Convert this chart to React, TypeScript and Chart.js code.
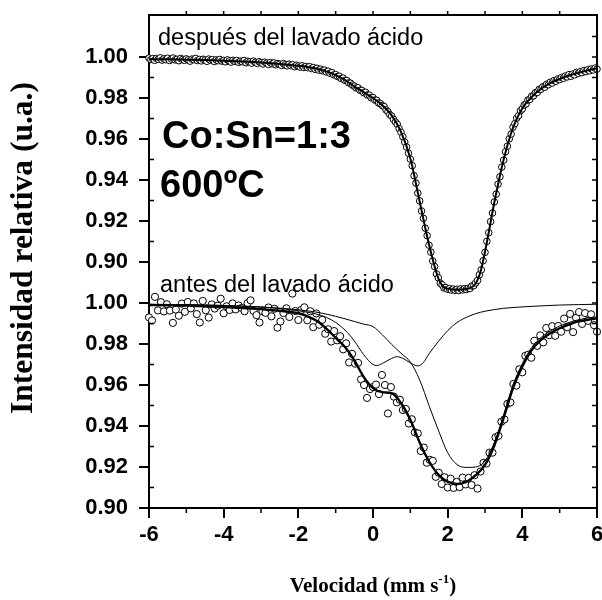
import { useEffect, useRef } from "react";
import { Chart, registerables } from "chart.js";

Chart.register(...registerables);

// ---------- axis ticks ----------
const yTicks = [0.9, 0.92, 0.94, 0.96, 0.98, 1.0];
const yMinor = [0.91, 0.93, 0.95, 0.97, 0.99];
const xTicks = [-6, -4, -2, 0, 2, 4, 6];
const xMinor = [-5, -3, -1, 1, 3, 5];
const xTopTicks = [-5, -4, -3, -2, -1, 0, 1, 2, 3, 4, 5];

// ---------- top panel: después del lavado ácido ----------
const velTop = [
  -6, -5.95, -5.9, -5.85, -5.8, -5.75, -5.7, -5.65, -5.6, -5.55,
  -5.5, -5.45, -5.4, -5.35, -5.3, -5.25, -5.2, -5.15, -5.1, -5.05,
  -5, -4.95, -4.9, -4.85, -4.8, -4.75, -4.7, -4.65, -4.6, -4.55,
  -4.5, -4.45, -4.4, -4.35, -4.3, -4.25, -4.2, -4.15, -4.1, -4.05,
  -4, -3.95, -3.9, -3.85, -3.8, -3.75, -3.7, -3.65, -3.6, -3.55,
  -3.5, -3.45, -3.4, -3.35, -3.3, -3.25, -3.2, -3.15, -3.1, -3.05,
  -3, -2.95, -2.9, -2.85, -2.8, -2.75, -2.7, -2.65, -2.6, -2.55,
  -2.5, -2.45, -2.4, -2.35, -2.3, -2.25, -2.2, -2.15, -2.1, -2.05,
  -2, -1.95, -1.9, -1.85, -1.8, -1.75, -1.7, -1.65, -1.6, -1.55,
  -1.5, -1.45, -1.4, -1.35, -1.3, -1.25, -1.2, -1.15, -1.1, -1.05,
  -1, -0.95, -0.9, -0.85, -0.8, -0.75, -0.7, -0.65, -0.6, -0.55,
  -0.5, -0.45, -0.4, -0.35, -0.3, -0.25, -0.2, -0.15, -0.1, -0.05,
  0, 0.05, 0.1, 0.15, 0.2, 0.25, 0.3, 0.35, 0.4, 0.45,
  0.5, 0.55, 0.6, 0.65, 0.7, 0.75, 0.8, 0.85, 0.9, 0.95,
  1, 1.05, 1.1, 1.15, 1.2, 1.25, 1.3, 1.35, 1.4, 1.45,
  1.5, 1.55, 1.6, 1.65, 1.7, 1.75, 1.8, 1.85, 1.9, 1.95,
  2, 2.05, 2.1, 2.15, 2.2, 2.25, 2.3, 2.35, 2.4, 2.45,
  2.5, 2.55, 2.6, 2.65, 2.7, 2.75, 2.8, 2.85, 2.9, 2.95,
  3, 3.05, 3.1, 3.15, 3.2, 3.25, 3.3, 3.35, 3.4, 3.45,
  3.5, 3.55, 3.6, 3.65, 3.7, 3.75, 3.8, 3.85, 3.9, 3.95,
  4, 4.05, 4.1, 4.15, 4.2, 4.25, 4.3, 4.35, 4.4, 4.45,
  4.5, 4.55, 4.6, 4.65, 4.7, 4.75, 4.8, 4.85, 4.9, 4.95,
  5, 5.05, 5.1, 5.15, 5.2, 5.25, 5.3, 5.35, 5.4, 5.45,
  5.5, 5.55, 5.6, 5.65, 5.7, 5.75, 5.8, 5.85, 5.9, 5.95,
  6,
];
const intTop = [
  0.9995, 0.9988, 0.9992, 0.9984, 0.9993, 0.9989, 0.9996, 0.9985, 0.9991, 0.9987,
  0.9994, 0.9983, 0.999, 0.9995, 0.9986, 0.9989, 0.9982, 0.9993, 0.9988, 0.9984,
  0.9991, 0.9986, 0.998, 0.999, 0.9987, 0.9993, 0.9983, 0.9988, 0.9981, 0.9989,
  0.9985, 0.9979, 0.999, 0.9984, 0.9987, 0.9978, 0.9986, 0.9982, 0.9988, 0.998,
  0.9983, 0.9977, 0.9986, 0.9981, 0.9975, 0.9984, 0.9979, 0.9983, 0.9974, 0.998,
  0.9977, 0.9983, 0.9972, 0.9979, 0.9976, 0.997, 0.998, 0.9974, 0.9969, 0.9977,
  0.9972, 0.9966, 0.9975, 0.997, 0.9964, 0.9973, 0.9967, 0.9971, 0.9962, 0.9968,
  0.9965, 0.9959, 0.9968, 0.9962, 0.9957, 0.9965, 0.9958, 0.9962, 0.9953, 0.996,
  0.9956, 0.9951, 0.9957, 0.9949, 0.9954, 0.9948, 0.9953, 0.9944, 0.9949, 0.994,
  0.9945, 0.9936, 0.9941, 0.9933, 0.9936, 0.9927, 0.9931, 0.9921, 0.9924, 0.9913,
  0.9914, 0.9905, 0.9906, 0.9895, 0.9897, 0.9886, 0.9885, 0.9874, 0.9872, 0.9863,
  0.9858, 0.9849, 0.985, 0.9838, 0.9837, 0.9826, 0.9828, 0.9815, 0.9814, 0.9801,
  0.9802, 0.979, 0.9789, 0.9776, 0.9772, 0.9763, 0.9758, 0.9742, 0.9733, 0.9719,
  0.9712, 0.9696, 0.9683, 0.9672, 0.9651, 0.9633, 0.9611, 0.9585, 0.9561, 0.9531,
  0.9502, 0.947, 0.9421, 0.9385, 0.9336, 0.9298, 0.9249, 0.9213, 0.9165, 0.9129,
  0.9082, 0.9048, 0.9005, 0.8978, 0.8942, 0.8923, 0.8897, 0.8889, 0.8874, 0.8875,
  0.8867, 0.887, 0.8863, 0.8868, 0.8862, 0.8867, 0.8861, 0.8869, 0.8864, 0.887,
  0.8866, 0.8872, 0.8871, 0.8883, 0.8885, 0.8898, 0.891, 0.8938, 0.8962, 0.9006,
  0.9047, 0.9101, 0.9143, 0.9197, 0.9239, 0.9293, 0.9331, 0.938, 0.9416, 0.9463,
  0.9497, 0.9538, 0.9565, 0.9601, 0.9624, 0.9658, 0.9675, 0.9702, 0.9714, 0.9738,
  0.9747, 0.9766, 0.9771, 0.979, 0.9793, 0.9809, 0.9811, 0.9826, 0.9827, 0.9842,
  0.9843, 0.9855, 0.9853, 0.9867, 0.9865, 0.9877, 0.9873, 0.9885, 0.9882, 0.9893,
  0.989, 0.99, 0.9896, 0.9907, 0.9903, 0.9914, 0.9906, 0.9917, 0.9913, 0.9925,
  0.992, 0.9928, 0.9924, 0.9934, 0.9929, 0.9938, 0.9933, 0.9942, 0.9937, 0.9946,
  0.9941,
];
const velFitTop = [
  -6, -5.5, -5, -4.5, -4, -3.5, -3, -2.5, -2, -1.75, -1.5, -1.25, -1, -0.75, -0.5, -0.25,
  0, 0.25, 0.5, 0.75, 1, 1.25, 1.5, 1.75, 1.875, 2, 2.25, 2.5, 2.75, 2.875, 3, 3.25, 3.5,
  3.75, 4, 4.25, 4.5, 4.75, 5, 5.25, 5.5, 5.75, 6,
];
const fitTop = [
  0.999, 0.9989, 0.9987, 0.9985, 0.9982, 0.9978, 0.9973, 0.9966, 0.9957, 0.9951, 0.9943, 0.993,
  0.9912, 0.9888, 0.9856, 0.9829, 0.98, 0.9765, 0.9715, 0.9635, 0.9505, 0.9295, 0.9085, 0.892,
  0.8881, 0.887, 0.8865, 0.8868, 0.8895, 0.895, 0.905, 0.929, 0.95, 0.9655, 0.975, 0.9805,
  0.9845, 0.9873, 0.9893, 0.991, 0.9923, 0.9935, 0.9945,
];

// ---------- bottom panel: antes del lavado ácido ----------
const velBot = [
  -6, -5.92, -5.84, -5.76, -5.68, -5.6, -5.52, -5.44, -5.36, -5.28,
  -5.2, -5.12, -5.04, -4.96, -4.88, -4.8, -4.72, -4.64, -4.56, -4.48,
  -4.4, -4.32, -4.24, -4.16, -4.08, -4, -3.92, -3.84, -3.76, -3.68,
  -3.6, -3.52, -3.44, -3.36, -3.28, -3.2, -3.12, -3.04, -2.96, -2.88,
  -2.8, -2.72, -2.64, -2.56, -2.48, -2.4, -2.32, -2.24, -2.16, -2.08,
  -2, -1.92, -1.84, -1.76, -1.68, -1.6, -1.52, -1.44, -1.36, -1.28,
  -1.2, -1.12, -1.04, -0.96, -0.88, -0.8, -0.72, -0.64, -0.56, -0.48,
  -0.4, -0.32, -0.24, -0.16, -0.08, 0, 0.08, 0.16, 0.24, 0.32,
  0.4, 0.48, 0.56, 0.64, 0.72, 0.8, 0.88, 0.96, 1.04, 1.12,
  1.2, 1.28, 1.36, 1.44, 1.52, 1.6, 1.68, 1.76, 1.84, 1.92,
  2, 2.08, 2.16, 2.24, 2.32, 2.4, 2.48, 2.56, 2.64, 2.72,
  2.8, 2.88, 2.96, 3.04, 3.12, 3.2, 3.28, 3.36, 3.44, 3.52,
  3.6, 3.68, 3.76, 3.84, 3.92, 4, 4.08, 4.16, 4.24, 4.32,
  4.4, 4.48, 4.56, 4.64, 4.72, 4.8, 4.88, 4.96, 5.04, 5.12,
  5.2, 5.28, 5.36, 5.44, 5.52, 5.6, 5.68, 5.76, 5.84, 5.92,
  6,
];
const intBot = [
  0.993, 0.9915, 1.003, 0.9964, 1.0004, 0.9959, 0.9994, 0.9963, 0.9903, 0.9968,
  0.9938, 0.9997, 0.9957, 1.0005, 0.9974, 0.9998, 0.9946, 0.9905, 1.001, 0.9965,
  0.9929, 0.9993, 0.9973, 0.9987, 1.0021, 0.995, 0.9984, 0.9966, 0.9998, 0.9969,
  0.9988, 0.9976, 0.996, 0.9999, 1.0013, 0.9962, 0.9941, 0.9905, 0.996, 0.9952,
  0.9978, 0.9935, 0.9972, 0.988, 0.991, 0.9951, 0.9974, 0.9932, 1.0046, 0.9961,
  0.9917, 0.9966, 0.9979, 0.9916, 0.996, 0.9882, 0.9949, 0.9894, 0.9918, 0.985,
  0.9872, 0.9812, 0.9863, 0.9818, 0.9838, 0.9774, 0.9803, 0.971, 0.9752, 0.9704,
  0.9708, 0.9627, 0.96, 0.9537, 0.958, 0.959, 0.9602, 0.9556, 0.9649, 0.96,
  0.9461, 0.959, 0.9543, 0.9515, 0.9528, 0.9478, 0.9483, 0.9412, 0.9433, 0.9369,
  0.9364, 0.9278, 0.9295, 0.9221, 0.9235, 0.923, 0.9152, 0.9172, 0.9117, 0.915,
  0.91, 0.9143, 0.9098, 0.9127, 0.9102, 0.9148, 0.9115, 0.9147, 0.9112, 0.916,
  0.9095, 0.9178, 0.922, 0.9217, 0.927, 0.927, 0.9345, 0.9352, 0.9421, 0.9432,
  0.9508, 0.9515, 0.9605, 0.9597, 0.9677, 0.9662, 0.9742, 0.9748, 0.9733, 0.9816,
  0.9791, 0.9842, 0.9808, 0.9878, 0.9843, 0.9887, 0.984, 0.9888, 0.986, 0.9924,
  0.9882, 0.9947, 0.9858, 0.9928, 0.9956, 0.9898, 0.9951, 0.9913, 0.9945, 0.9892,
  0.986,
];
const velFitBot = [
  -6, -5.5, -5, -4.5, -4, -3.5, -3, -2.5, -2, -1.75, -1.5, -1.25, -1, -0.75, -0.5, -0.25,
  0, 0.25, 0.5, 0.75, 1, 1.25, 1.5, 1.75, 2, 2.25, 2.5, 2.75, 3, 3.25, 3.5, 3.75, 4, 4.25,
  4.5, 4.75, 5, 5.25, 5.5, 5.75, 6,
];
const fitBot = [
  0.999, 0.9989, 0.9987, 0.9984, 0.998, 0.9976, 0.997, 0.9962, 0.995, 0.9935, 0.9912, 0.9875,
  0.983, 0.9785, 0.972, 0.964, 0.9585, 0.9565, 0.956, 0.9512, 0.943, 0.932, 0.9228, 0.9163,
  0.9128, 0.9117, 0.9127, 0.916, 0.921, 0.9305, 0.944, 0.9585, 0.969, 0.977, 0.982, 0.9852,
  0.9877, 0.9895, 0.991, 0.9918, 0.9925,
];
const velSinglet = [
  -6, -5, -4, -3.5, -3, -2.5, -2, -1.5, -1.25, -1, -0.75, -0.5, -0.25, 0, 0.25, 0.5, 0.75,
  1, 1.25, 1.5, 1.75, 2, 2.25, 2.5, 2.75, 3, 3.25, 3.5, 3.75, 4, 4.25, 4.5, 4.75, 5, 5.25,
  5.5, 5.75, 6,
];
const fitSinglet = [
  0.9993, 0.9991, 0.9988, 0.9985, 0.9981, 0.9975, 0.9967, 0.9955, 0.9946, 0.9935, 0.9923,
  0.991, 0.9897, 0.9885, 0.9845, 0.9798, 0.9755, 0.9712, 0.9625, 0.95, 0.938, 0.927, 0.9212,
  0.9198, 0.92, 0.923, 0.932, 0.9455, 0.96, 0.9705, 0.9783, 0.9832, 0.9864, 0.9888, 0.9905,
  0.9918, 0.9927, 0.9933,
];
const velDoublet = [
  -6, -5, -4, -3, -2.5, -2, -1.75, -1.5, -1.25, -1, -0.75, -0.5, -0.25, 0, 0.1, 0.25, 0.5,
  0.65, 0.8, 1, 1.2, 1.35, 1.5, 1.75, 2, 2.25, 2.5, 2.75, 3, 3.5, 4, 4.5, 5, 6,
];
const fitDoublet = [
  0.9994, 0.9992, 0.9988, 0.998, 0.9973, 0.9962, 0.9955, 0.9945, 0.993, 0.9905, 0.9868,
  0.9815, 0.9748, 0.97, 0.9695, 0.9705, 0.973, 0.9738, 0.973, 0.9708, 0.9693, 0.971, 0.9752,
  0.9812, 0.9865, 0.9905, 0.993, 0.9948, 0.996, 0.9974, 0.9981, 0.9986, 0.999, 0.9994,
];

const SANS = '"Liberation Sans", Arial, sans-serif';
const SERIF = '"Liberation Serif", "Times New Roman", serif';

const pairs = (xs: number[], ys: number[]) => xs.map((x, i) => ({ x, y: ys[i] }));

const decorPlugin = {
  id: "decor",
  afterDraw(chart: any) {
    const { ctx, chartArea: a } = chart;
    const sx = chart.scales.x;
    const yt = chart.scales.yTop;
    const yb = chart.scales.yBot;
    ctx.save();
    ctx.strokeStyle = "#000";
    ctx.lineWidth = 2;
    ctx.beginPath();
    ctx.moveTo(a.left - 1, a.top);
    ctx.lineTo(a.right, a.top);
    ctx.lineTo(a.right, a.bottom + 1);
    ctx.stroke();

    ctx.lineWidth = 1.5;
    ctx.beginPath();
    for (const s of [yt, yb]) {
      for (const v of yMinor) {
        const p = s.getPixelForValue(v);
        ctx.moveTo(a.left, p);
        ctx.lineTo(a.left + 5, p);
      }
      for (const v of yTicks.concat(yMinor, [1.01])) {
        const p = s.getPixelForValue(v);
        ctx.moveTo(a.right, p);
        ctx.lineTo(a.right - 5, p);
      }
    }
    for (const v of xTopTicks) {
      const p = sx.getPixelForValue(v);
      ctx.moveTo(p, a.top);
      ctx.lineTo(p, a.top - 4);
    }
    for (const v of xMinor) {
      const p = sx.getPixelForValue(v);
      ctx.moveTo(p, a.bottom);
      ctx.lineTo(p, a.bottom + 5);
    }
    ctx.stroke();

    ctx.fillStyle = "#000";
    ctx.textAlign = "left";
    ctx.textBaseline = "alphabetic";
    ctx.font = `23.5px ${SANS}`;
    ctx.fillText("después del lavado ácido", 158, 45);
    ctx.fillText("antes del lavado ácido", 160, 292);
    ctx.font = `bold 38px ${SANS}`;
    ctx.fillText("Co:Sn=1:3", 162, 148);
    ctx.fillText("600ºC", 160, 197);

    // y title
    ctx.save();
    ctx.translate(24, 248);
    ctx.rotate(-Math.PI / 2);
    ctx.textAlign = "center";
    ctx.textBaseline = "middle";
    ctx.font = `bold 31.5px ${SERIF}`;
    ctx.fillText("Intensidad relativa (u.a.)", 0, 0);
    ctx.restore();

    // x title with superscript
    const main = "Velocidad (mm s";
    const sup = "-1";
    const close = ")";
    ctx.font = `bold 21px ${SERIF}`;
    const w1 = ctx.measureText(main).width;
    const w3 = ctx.measureText(close).width;
    ctx.font = `bold 13px ${SERIF}`;
    const w2 = ctx.measureText(sup).width;
    const cx = (a.left + a.right) / 2;
    const x0 = cx - (w1 + w2 + w3) / 2;
    const base = 592;
    ctx.font = `bold 21px ${SERIF}`;
    ctx.fillText(main, x0, base);
    ctx.font = `bold 13px ${SERIF}`;
    ctx.fillText(sup, x0 + w1, base - 9);
    ctx.font = `bold 21px ${SERIF}`;
    ctx.fillText(close, x0 + w1 + w2, base);
    ctx.restore();
  },
};

const tickFont = { family: SANS, size: 22, weight: "bold" as const };

function yScale(min: number, max: number, weight: number) {
  return {
    type: "linear" as const,
    position: "left" as const,
    stack: "panels",
    stackWeight: weight,
    min,
    max,
    afterBuildTicks: (s: any) => {
      s.ticks = yTicks.map((v) => ({ value: v }));
    },
    afterFit: (s: any) => {
      s.width = 149;
      s.paddingTop = 0;
      s.paddingBottom = 0;
    },
    ticks: {
      font: tickFont,
      color: "#000",
      padding: 11,
      autoSkip: false,
      callback: (v: any) => Number(v).toFixed(2),
    },
    grid: { drawOnChartArea: false, drawTicks: true, tickLength: 10, lineWidth: 2, color: "#000" },
    border: { display: true, color: "#000", width: 2 },
  };
}

export default function App() {
  const ref = useRef<HTMLCanvasElement>(null);
  useEffect(() => {
    const lineBase = {
      pointRadius: 0,
      borderColor: "#000",
      fill: false,
      clip: false as const,
      cubicInterpolationMode: "monotone" as const,
    };
    const pointBase = {
      showLine: false,
      clip: false as const,
      pointBorderWidth: 1,
      pointBorderColor: "#000",
      pointBackgroundColor: "#fff",
    };
    const chart = new Chart(ref.current!, {
      type: "line",
      data: {
        datasets: [
          { ...lineBase, data: pairs(velFitTop, fitTop), yAxisID: "yTop", borderWidth: 2, order: 0 },
          { ...lineBase, data: pairs(velFitBot, fitBot), yAxisID: "yBot", borderWidth: 2.4, order: 1 },
          { ...lineBase, data: pairs(velSinglet, fitSinglet), yAxisID: "yBot", borderWidth: 1, order: 2 },
          { ...lineBase, data: pairs(velDoublet, fitDoublet), yAxisID: "yBot", borderWidth: 1, order: 3 },
          { ...pointBase, data: pairs(velTop, intTop), yAxisID: "yTop", pointRadius: 3.3, order: 5 },
          { ...pointBase, data: pairs(velBot, intBot), yAxisID: "yBot", pointRadius: 3.6, order: 6 },
        ],
      },
      options: {
        animation: false,
        responsive: false,
        maintainAspectRatio: false,
        events: [],
        layout: { padding: { top: 15, right: 5, bottom: 0, left: 0 } },
        plugins: { legend: { display: false }, tooltip: { enabled: false } },
        scales: {
          x: {
            type: "linear",
            position: "bottom",
            min: -6,
            max: 6,
            afterBuildTicks: (s: any) => {
              s.ticks = xTicks.map((v) => ({ value: v }));
            },
            afterFit: (s: any) => {
              s.height = 92;
              s.paddingLeft = 0;
              s.paddingRight = 0;
            },
            ticks: {
              font: tickFont,
              color: "#000",
              padding: 4,
              maxRotation: 0,
              autoSkip: false,
              callback: (v: any) => String(v),
            },
            grid: { drawOnChartArea: false, drawTicks: true, tickLength: 10, lineWidth: 2, color: "#000" },
            border: { display: true, color: "#000", width: 2 },
          },
          yBot: yScale(0.9, 1.01, 0.11),
          yTop: yScale(0.89, 1.0205, 0.1305),
        },
      },
      plugins: [decorPlugin],
    });
    return () => chart.destroy();
  }, []);
  return (
    <canvas
      ref={ref}
      width={602}
      height={600}
      style={{ position: "absolute", left: 0, top: 0, width: 602, height: 600 }}
    />
  );
}
